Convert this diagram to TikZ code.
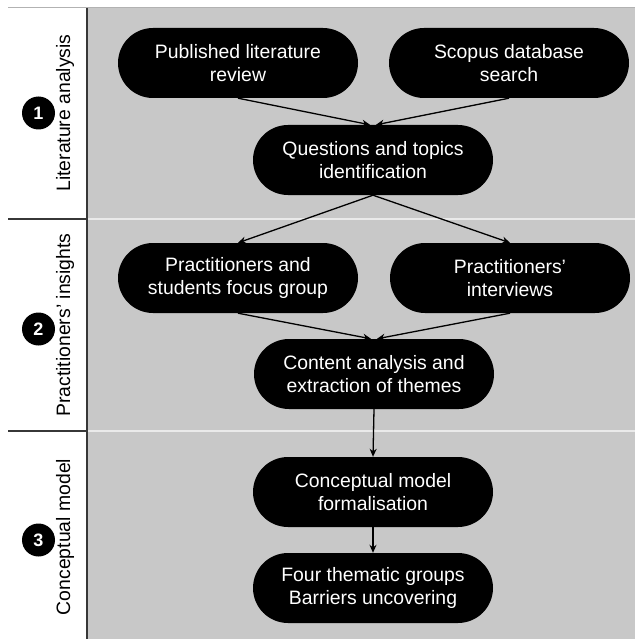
\documentclass[tikz,border=0pt]{standalone}
\usepackage{fontspec}
\setmainfont{Liberation Sans}
\usetikzlibrary{arrows.meta}
\definecolor{panelgray}{RGB}{200,200,200}
\definecolor{sepwhite}{RGB}{234,234,234}
\definecolor{framedark}{RGB}{55,55,55}
\tikzset{
	stepnode/.style={fill=black,text=white,rounded corners=35pt,minimum width=240pt,minimum height=70pt,inner sep=0pt,align=center,font=\fontsize{19.4}{23}\selectfont},
	rowlabel/.style={rotate=90,font=\fontsize{19.4}{23}\selectfont},
	rownum/.style={circle,fill=black,text=white,minimum width=33pt,minimum height=33pt,inner sep=0pt,font=\bfseries\fontsize{18}{18}\selectfont},
	flow/.style={->,line width=1.3pt}
}
\begin{document}
\begin{tikzpicture}[x=1pt,y=-1pt,>={Stealth[length=8pt,width=7pt]}]
			\useasboundingbox (0,0) rectangle (635,639);
			% panel and frame
			\fill[panelgray] (87,8) rectangle (635,639);
			\draw[gray!60,line width=1pt] (8,8)--(635,8);
			\draw[sepwhite,line width=1.5pt] (87,219)--(635,219) (87,431)--(635,431);
			\draw[framedark,line width=1.5pt] (8,219)--(87,219) (8,431)--(87,431) (87,8)--(87,639);
			% rows
			\node[rownum] (num1) at (38.5,113) {1};
			\node[rowlabel] (lab1) at (65,113) {Literature analysis};
			\node[rownum] (num2) at (38.5,329) {2};
			\node[rowlabel] (lab2) at (65,325) {Practitioners' insights};
			\node[rownum] (num3) at (38.5,540) {3};
			\node[rowlabel] (lab3) at (65,537) {Conceptual model};
			% steps
			\node[stepnode] (pub) at (238,63) {Published literature\\review};
			\node[stepnode] (scopus) at (509,63) {Scopus database\\search};
			\node[stepnode] (quest) at (373,160) {Questions and topics\\identification};
			\node[stepnode] (focus) at (238,278) {Practitioners and\\students focus group};
			\node[stepnode] (interv) at (510,278) {Practitioners'\\interviews};
			\node[stepnode] (content) at (374,374) {Content analysis and\\extraction of themes};
			\node[stepnode] (concept) at (373,492) {Conceptual model\\formalisation};
			\node[stepnode] (groups) at (373,588) {Four thematic groups\\Barriers uncovering};
			% connectors
			\draw[flow] (pub.south)--([xshift=-3pt]quest.north);
			\draw[flow] (scopus.south)--([xshift=3pt]quest.north);
			\draw[flow] (quest.south)--(focus.north);
			\draw[flow] (quest.south)--(interv.north);
			\draw[flow] (focus.south)--([xshift=-3pt]content.north);
			\draw[flow] (interv.south)--([xshift=3pt]content.north);
			\draw[flow] (content.south)--(concept.north);
			\draw[flow] (concept.south)--(groups.north);
\end{tikzpicture}
\end{document}
